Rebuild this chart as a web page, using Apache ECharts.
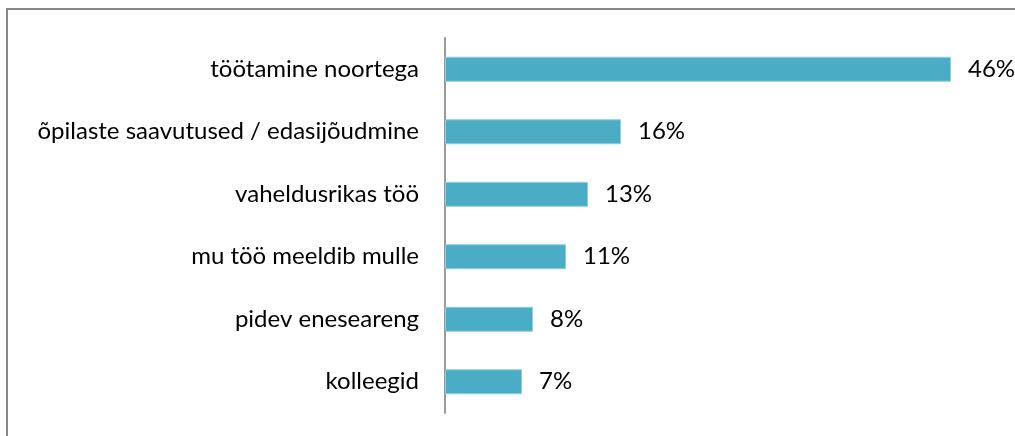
<!DOCTYPE html>
<html>
<head>
<meta charset="utf-8">
<script src="https://cdn.jsdelivr.net/npm/echarts@6/dist/echarts.min.js"></script>
<style>
  html, body { margin: 0; padding: 0; background: #fff; }
  #main { width: 1015px; height: 436px; }
</style>
</head>
<body>
<div id="main"></div>
<script>
// andmed (ülevalt alla)
var categories = ['töötamine noortega', 'õpilaste saavutused / edasijõudmine', 'vaheldusrikas töö', 'mu töö meeldib mulle', 'pidev eneseareng', 'kolleegid']
var values = [46, 16, 13, 11, 8, 7]

var myChart = echarts.init(document.getElementById('main'))

myChart.setOption({
  animation: false,
  textStyle: { fontFamily: 'Lato' },
  graphic: [{
    type: 'rect',
    shape: { x: 7, y: 9, width: 1100, height: 500 },
    style: { fill: 'none', stroke: '#888', lineWidth: 2 }
  }],
  grid: { left: 445, right: 64, top: 38, bottom: 23 },
  xAxis: {
    type: 'value',
    min: 0,
    max: 46,
    show: false
  },
  yAxis: {
    type: 'category',
    inverse: true,
    data: categories,
    axisLine: { show: true, lineStyle: { color: '#999', width: 2 } },
    axisTick: { show: false },
    axisLabel: { color: '#000', fontSize: 24, margin: 26, fontFamily: 'Lato' }
  },
  series: [{
    type: 'bar',
    data: values,
    barWidth: 25,
    itemStyle: { color: '#4BACC6', borderColor: '#8ECFE0', borderWidth: 1 },
    label: {
      show: true,
      position: 'right',
      distance: 17,
      color: '#000',
      fontSize: 24,
      fontFamily: 'Lato',
      formatter: '{c}%'
    }
  }]
})
</script>
</body>
</html>
